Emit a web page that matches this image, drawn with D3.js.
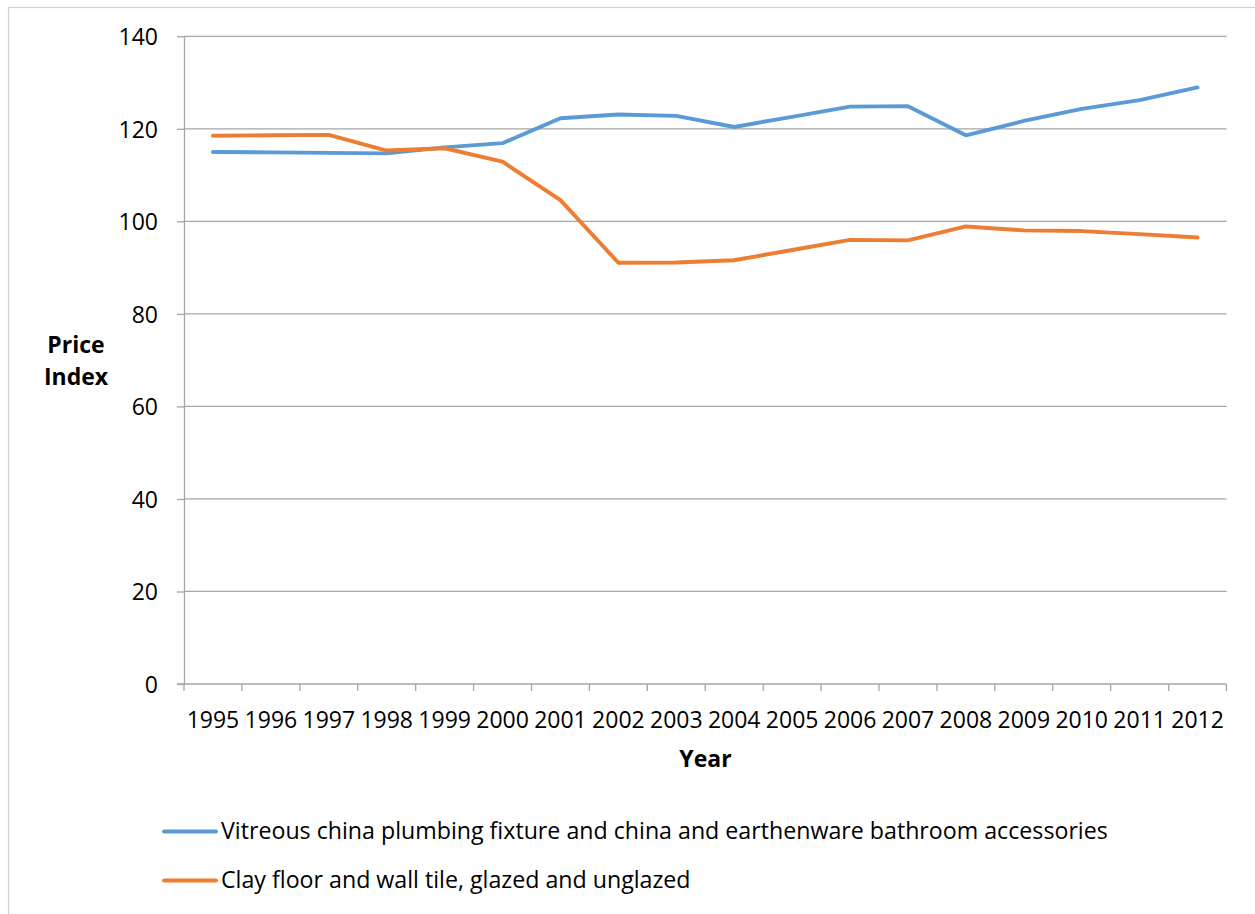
<!DOCTYPE html>
<html>
<head>
<meta charset="utf-8">
<script src="https://cdn.jsdelivr.net/npm/d3@7"></script>
<style>
html,body{margin:0;padding:0;background:#fff;}
svg{display:block;}
text{font-family:"Open Sans","Noto Sans",sans-serif;fill:#000;}
</style>
</head>
<body>
<svg id="chart" width="1255" height="914"></svg>
<script>
const years = ["1995","1996","1997","1998","1999","2000","2001","2002","2003","2004","2005","2006","2007","2008","2009","2010","2011","2012"];
const vitreous = [115.0,114.9,114.8,114.7,116.0,116.9,122.3,123.1,122.8,120.4,122.6,124.8,124.9,118.6,121.7,124.3,126.2,128.95];
const clayTile = [118.5,118.6,118.7,115.3,115.8,112.9,104.6,91.05,91.1,91.6,93.8,96.0,95.9,98.9,98.05,97.9,97.25,96.5];
const yTicks = [0,20,40,60,80,100,120,140];
const seriesNames = ["Vitreous china plumbing fixture and china and earthenware bathroom accessories","Clay floor and wall tile, glazed and unglazed"];
const seriesColors = ["#5B9BD5","#ED7D31"];

const svg = d3.select("#chart");
const pLeft = 184, pRight = 1226.5, pTop = 36.3, pBottom = 684;
const fs = 23;

// outer frame
svg.append("rect").attr("x",8.5).attr("y",7.5).attr("width",1260).attr("height",920)
  .attr("fill","none").attr("stroke","#d0d0d0").attr("stroke-width",1.2);

const x = d3.scaleBand().domain(years).range([pLeft,pRight]).padding(0);
const y = d3.scaleLinear().domain([0,140]).range([pBottom,pTop]);

// gridlines
svg.append("g").selectAll("line").data(yTicks.filter(d=>d>0)).join("line")
  .attr("x1",pLeft).attr("x2",pRight).attr("y1",d=>y(d)).attr("y2",d=>y(d))
  .attr("stroke","#a6a6a6").attr("stroke-width",1.3);

// y axis
const yAxis = d3.axisLeft(y).tickValues(yTicks).tickSize(7).tickSizeOuter(0).tickPadding(19);
const gy = svg.append("g").attr("transform",`translate(${pLeft},0)`).call(yAxis);
gy.select(".domain").attr("stroke","#a6a6a6").attr("stroke-width",1.3);
gy.selectAll(".tick line").attr("stroke","#a6a6a6").attr("stroke-width",1.3);
gy.selectAll(".tick text").attr("font-size",fs).attr("dy","0.36em").attr("fill","#000").style("font-family","'Open Sans'");

// x axis
const xAxis = d3.axisBottom(x).tickSize(0).tickPadding(24);
const gx = svg.append("g").attr("transform",`translate(0,${pBottom})`).call(xAxis);
gx.select(".domain").remove();
gx.selectAll(".tick text").attr("font-size",fs).attr("dy","0").attr("y",44).attr("fill","#000").style("font-family","'Open Sans'");
svg.append("line").attr("x1",pLeft-7).attr("x2",pRight).attr("y1",pBottom).attr("y2",pBottom)
  .attr("stroke","#a6a6a6").attr("stroke-width",1.3);
const bounds = years.map(d=>x(d)).concat([pRight]);
svg.append("g").selectAll("line").data(bounds).join("line")
  .attr("x1",d=>d).attr("x2",d=>d).attr("y1",pBottom).attr("y2",pBottom+7)
  .attr("stroke","#a6a6a6").attr("stroke-width",1.3);

// lines
const line = d3.line().x((d,i)=>x(years[i])+x.bandwidth()/2).y(d=>y(d));
[vitreous, clayTile].forEach((s,i)=>{
  svg.append("path").datum(s).attr("d",line).attr("fill","none")
    .attr("stroke",seriesColors[i]).attr("stroke-width",3.9)
    .attr("stroke-linejoin","round").attr("stroke-linecap","round");
});

// axis titles
svg.append("text").attr("x",76).attr("y",353).attr("text-anchor","middle")
  .attr("font-size",fs).attr("font-weight","bold").text("Price");
svg.append("text").attr("x",76).attr("y",385).attr("text-anchor","middle")
  .attr("font-size",fs).attr("font-weight","bold").text("Index");
svg.append("text").attr("x",705.5).attr("y",767).attr("text-anchor","middle")
  .attr("font-size",fs).attr("font-weight","bold").text("Year");

// legend
const legY = [831.5, 880.5];
const legTexts = seriesNames.map((n,i)=>{
  svg.append("line").attr("x1",164).attr("x2",216).attr("y1",legY[i]).attr("y2",legY[i])
    .attr("stroke",seriesColors[i]).attr("stroke-width",3.9).attr("stroke-linecap","round");
  return svg.append("text").attr("x",221).attr("y",legY[i]+7.5).attr("font-size",22.5).text(n);
});
const w0 = legTexts[0].node().getComputedTextLength();
const legFs = Math.min(24, 22.5*887/w0);
legTexts.forEach(t=>t.attr("font-size",legFs));
</script>
</body>
</html>
